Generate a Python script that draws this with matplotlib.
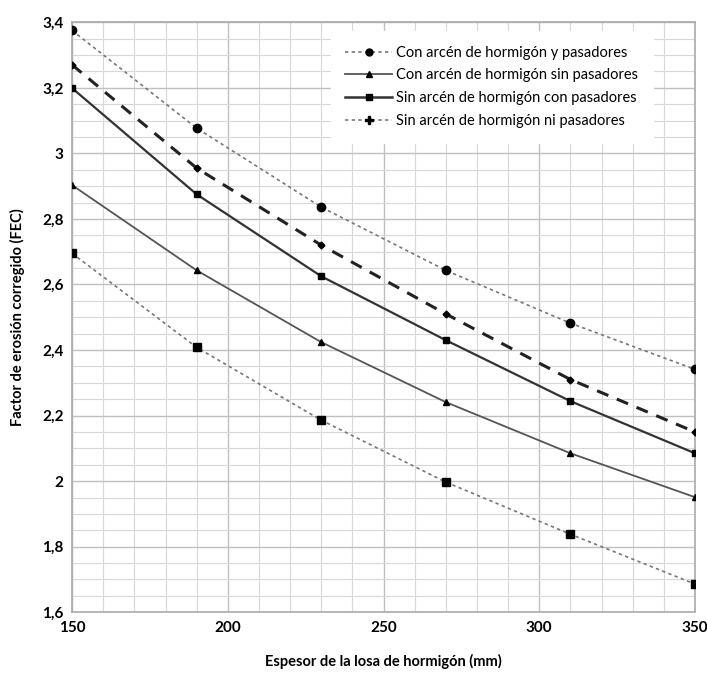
import numpy as np
import matplotlib
matplotlib.use("Agg")
import matplotlib.pyplot as plt
from matplotlib.lines import Line2D
from matplotlib.ticker import MultipleLocator, FuncFormatter

plt.rcParams['font.family'] = ['Lato', 'DejaVu Sans']

# espesor de la losa (mm)
espesor = [150, 190, 230, 270, 310, 350]

# factor de erosion corregido (FEC)
top_dotted = [3.375, 3.077, 2.836, 2.643, 2.482, 2.341]
dashed = [3.27, 2.955, 2.72, 2.51, 2.31, 2.15]
solid_sq = [3.199, 2.875, 2.625, 2.43, 2.244, 2.085]
solid_tri = [2.903, 2.643, 2.424, 2.241, 2.085, 1.951]
low_dotted = [2.695, 2.408, 2.186, 1.997, 1.838, 1.686]

legend_labels = ["Con arcén de hormigón y pasadores",
                 "Con arcén de hormigón sin pasadores",
                 "Sin arcén de hormigón con pasadores",
                 "Sin arcén de hormigón ni pasadores"]

fig = plt.figure(figsize=(7.07, 6.75), dpi=100)
ax = fig.add_axes([0.102, 0.093, 0.881, 0.874])

ax.plot(espesor, top_dotted, color='#777777', lw=1.2, ls=(0, (2, 2)),
        marker='o', ms=6, mfc='black', mec='black', zorder=3)
ax.plot(espesor, dashed, color='#222222', lw=2.2, ls=(0, (4, 3)),
        marker='D', ms=3.5, mfc='black', mec='black', zorder=3)
ax.plot(espesor, solid_sq, color='#333333', lw=1.6,
        marker='s', ms=4, mfc='black', mec='black', zorder=3)
ax.plot(espesor, solid_tri, color='#555555', lw=1.3,
        marker='^', ms=5, mfc='black', mec='black', zorder=3)
ax.plot(espesor, low_dotted, color='#777777', lw=1.2, ls=(0, (2, 2)),
        marker='s', ms=5.5, mfc='black', mec='black', zorder=3)

ax.set_xlim(150, 350)
ax.set_ylim(1.6, 3.4)
ax.xaxis.set_major_locator(MultipleLocator(50))
ax.xaxis.set_minor_locator(MultipleLocator(10))
ax.yaxis.set_major_locator(MultipleLocator(0.2))
ax.yaxis.set_minor_locator(MultipleLocator(0.05))
ax.yaxis.set_major_formatter(FuncFormatter(lambda v, p: ('%g' % round(v, 1)).replace('.', ',')))

ax.grid(which='major', color='#c0c0c0', lw=1.0)
ax.grid(which='minor', color='#d8d8d8', lw=0.8)
ax.set_axisbelow(True)
ax.tick_params(which='both', length=0, labelsize=11, pad=6)
for lab in ax.get_xticklabels() + ax.get_yticklabels():
    lab.set_fontweight('bold')
for s in ax.spines.values():
    s.set_color('#aaaaaa')
    s.set_linewidth(1.2)

ax.set_xlabel('Espesor de la losa de hormigón (mm)', fontsize=10.5, fontweight='bold', labelpad=14)
ax.set_ylabel('Factor de erosión corregido (FEC)', fontsize=10.5, fontweight='bold', labelpad=12)

handles = [
    Line2D([], [], color='#777777', lw=1.2, ls=(0, (2, 2)), marker='o', ms=5, mfc='black', mec='black'),
    Line2D([], [], color='#555555', lw=1.3, marker='^', ms=5, mfc='black', mec='black'),
    Line2D([], [], color='#333333', lw=1.8, marker='s', ms=5, mfc='black', mec='black'),
    Line2D([], [], color='#777777', lw=1.2, ls=(0, (2, 2)), marker='P', ms=6, mfc='black', mec='black'),
]
leg = ax.legend(handles, legend_labels, loc='upper left', bbox_to_anchor=(0.415, 0.985),
                fontsize=10.5, frameon=True, fancybox=False, handlelength=3.2,
                borderpad=1.0, labelspacing=0.6, handletextpad=0.3, borderaxespad=0.0)
leg.get_frame().set_edgecolor('white')
leg.get_frame().set_facecolor('white')
leg.get_frame().set_alpha(1)

fig.savefig('out.png', dpi=100)
